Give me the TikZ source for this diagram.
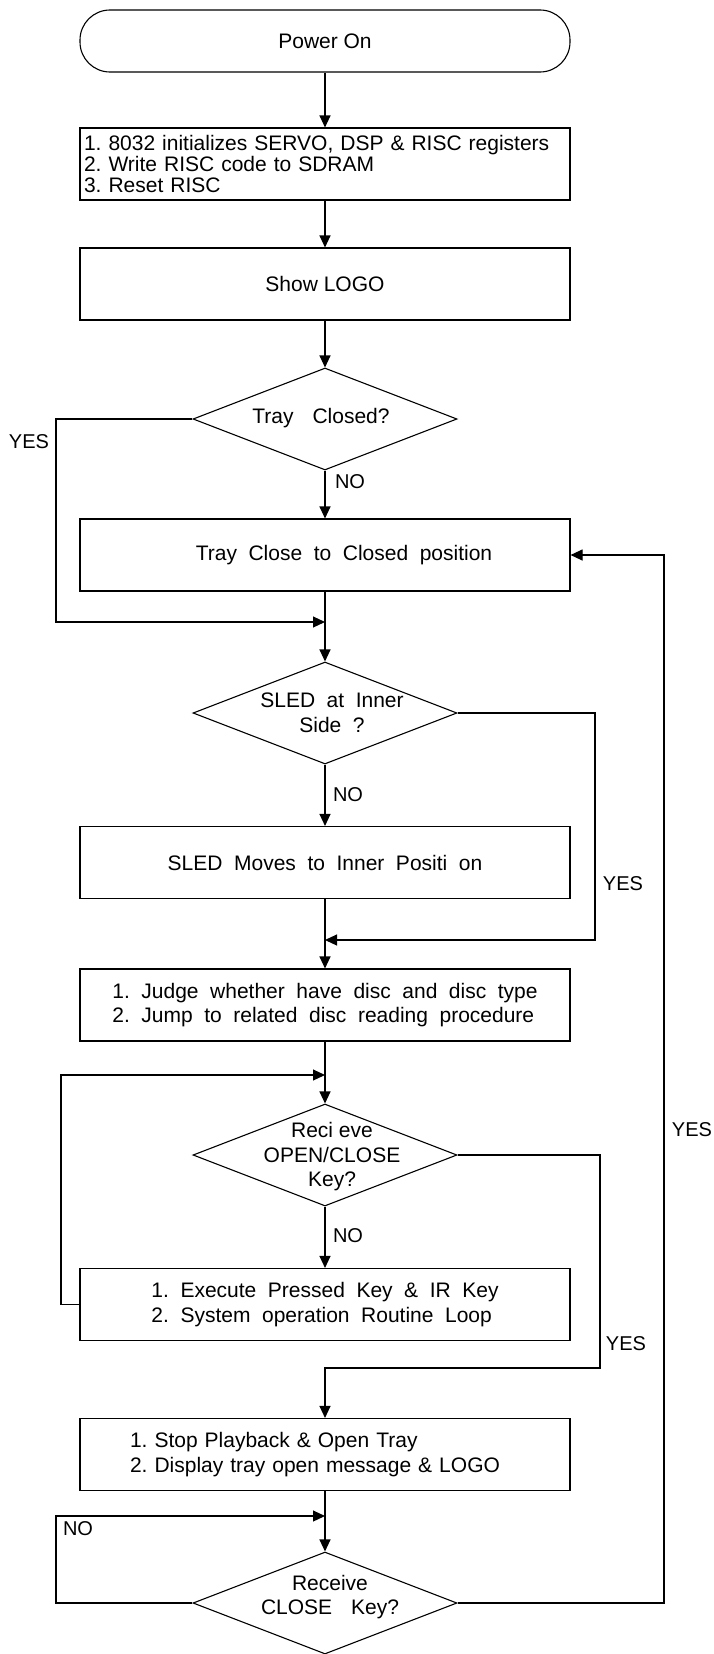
\documentclass[tikz,border=0pt]{standalone}
\usepackage{fontspec}
\setmainfont{Liberation Sans}
\usetikzlibrary{shapes.geometric,arrows.meta}
\frenchspacing
\begin{document}
\begin{tikzpicture}[x=1pt,y=-1pt,
  every node/.style={font=\fontsize{21pt}{24.5pt}\selectfont\frenchspacing, inner sep=0pt},
  box/.style={draw, line width=1.1pt, minimum width=490pt, minimum height=72pt, align=center},
  term/.style={draw, line width=1.1pt, minimum width=490pt, minimum height=62pt, rounded corners=30pt},
  dia/.style={draw, diamond, line width=1.1pt, minimum width=264pt, minimum height=102pt},
  wide/.style={execute at begin node={\spaceskip=0.55em\relax}},
  lab/.style={font=\fontsize{20pt}{24pt}\selectfont},
  conn/.style={line width=1.1pt},
  arr/.style={conn, -{Triangle[length=12pt,width=11pt]}},
]
\useasboundingbox (0,0) rectangle (713,1654);

% nodes
\node[term] (start) at (325,41) {Power On};
\node[box, text width=482pt, align=left, font=\fontsize{21pt}{21pt}\selectfont\frenchspacing] (b1) at (325,164)
  {1. 8032 initializes SERVO, DSP \& RISC registers\\2. Write RISC code to SDRAM\\3. Reset RISC};
\node[box] (b2) at (325,284) {Show LOGO};
\node[dia] (d1) at (325,419) {};
\node (d1t) at (321,418) {Tray\hspace{0.9em}Closed?};
\node[box, wide] (b3) at (325,555) {\hspace*{38pt}Tray Close to Closed position};
\node[dia] (d2) at (325,713) {};
\node[wide, align=center] (d2t) at (332,713) {SLED at Inner\\Side ?};
\node[box, wide] (b4) at (325,862.5) {SLED Moves to Inner Positi on};
\node[box, wide, align=left] (b5) at (325,1005)
  {1. Judge whether have disc and disc type\\2. Jump to related disc reading procedure};
\node[dia] (d3) at (325,1155) {};
\node[align=center] (d3t) at (332,1157) {Reci eve\\OPEN/CLOSE\\Key?};
\node[box, wide, align=left] (b6) at (325,1304.5)
  {1. Execute Pressed Key \& IR Key\\2. System operation Routine Loop};
\node[box, text width=390pt, align=left] (b7) at (325,1454.5)
  {1. Stop Playback \& Open Tray\\2. Display tray open message \& LOGO};
\node[dia] (d4) at (325,1603) {};
\node[align=center] (d4t) at (330,1597) {Receive\\CLOSE\hspace{0.9em}Key?};

% labels
\node[lab] (yes1) at (29,442) {YES};
\node[lab] (no1) at (350,482) {NO};
\node[lab] (no2) at (348,795) {NO};
\node[lab] (yes2) at (623,884) {YES};
\node[lab] (no3) at (348,1236) {NO};
\node[lab] (yes3) at (626,1344) {YES};
\node[lab] (yes4) at (692,1130) {YES};
\node[lab] (no4) at (78,1529) {NO};

% helper coordinates
\coordinate (c1) at (56,622);
\coordinate (m1) at (325,622);
\coordinate (c2) at (595,940);
\coordinate (m2) at (325,940);
\coordinate (c3) at (61,1075);
\coordinate (m3) at (325,1075);
\coordinate (c4) at (600,1368);
\coordinate (c5) at (56,1516);
\coordinate (m4) at (325,1516);
\coordinate (c6) at (664,555);

% connectors
\draw[arr] (start) -- (b1);
\draw[arr] (b1) -- (b2);
\draw[arr] (b2) -- (d1);
\draw[arr] (d1) -- (b3);
\draw[arr] (d1.west) -| (c1) -- (m1);
\draw[arr] (b3) -- (d2);
\draw[arr] (d2.east) -| (c2) -- (m2);
\draw[arr] (d2) -- (b4);
\draw[arr] (b4) -- (b5);
\draw[arr] (b5) -- (d3);
\draw[arr] (b6.west) -| (c3) -- (m3);
\draw[arr] (d3) -- (b6);
\draw[arr] (d3.east) -| (c4) -| (b7.north);
\draw[arr] (b7) -- (d4);
\draw[arr] (d4.west) -| (c5) -- (m4);
\draw[arr] (d4.east) -| (c6) -- (b3.east);
\end{tikzpicture}
\end{document}
